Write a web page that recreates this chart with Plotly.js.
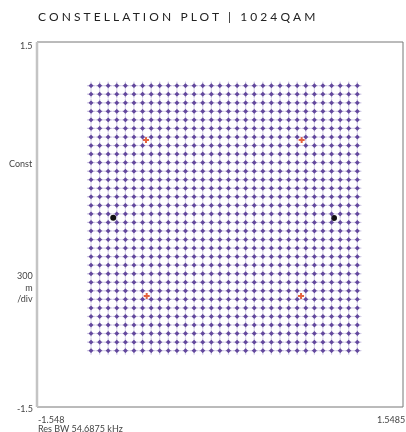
<!DOCTYPE html>
<html>
<head>
<meta charset="utf-8">
<script src="https://cdn.plot.ly/plotly-3.0.1.min.js"></script>
<style>
html,body{margin:0;padding:0;background:#fff;}
#chart{width:406px;height:432px;}
.gtitle{letter-spacing:3.1px;}
</style>
</head>
<body>
<div id="chart"></div>
<script>
// In-phase (I) levels of the 32 constellation columns
var iLevels = [-1.091,-1.018,-0.946,-0.873,-0.800,-0.728,-0.655,-0.582,-0.510,-0.437,
  -0.364,-0.292,-0.219,-0.146,-0.073,-0.001,0.072,0.145,0.217,0.290,
  0.363,0.435,0.508,0.581,0.653,0.726,0.799,0.871,0.944,1.017,1.089,1.162];
// Quadrature (Q) levels of the 32 constellation rows
var qLevels = [1.141,1.071,1.000,0.930,0.860,0.790,0.719,0.649,0.579,0.509,
  0.438,0.368,0.298,0.228,0.157,0.087,0.017,-0.053,-0.124,-0.194,
  -0.264,-0.334,-0.405,-0.475,-0.545,-0.615,-0.686,-0.756,-0.826,-0.896,-0.967,-1.037];
// Highlighted symbols
var pilotI = [-0.626,0.691,-0.620,0.686];
var pilotQ = [0.695,0.695,-0.588,-0.588];
var markerI = [-0.903,0.965];
var markerQ = [0.056,0.053];
// Axis annotations
var xRange = [-1.548,1.5485];
var yRange = [-1.5,1.5];
var xTickLabels = ["-1.548","1.5485"];
var yTickLabels = ["1.5","-1.5"];
var scaleLabels = ["Const","300<br>m<br>/div"];
var footer = "Res BW 54.6875 kHz";
var titleText = "CONSTELLATION PLOT | 1024QAM";

var gx = [], gy = [];
for (var r = 0; r < qLevels.length; r++) {
  for (var c = 0; c < iLevels.length; c++) {
    gx.push(iLevels[c]); gy.push(qLevels[r]);
  }
}

var traces = [
  {x: gx, y: gy, type: 'scattergl', mode: 'markers', hoverinfo: 'skip',
   marker: {symbol: 'cross-thin', size: 5, color: 'rgba(165,152,205,0.5)', line: {width: 1, color: 'rgba(165,152,205,0.5)'}}},
  {x: gx, y: gy, type: 'scattergl', mode: 'markers', hoverinfo: 'skip',
   marker: {symbol: 'diamond', size: 4, color: 'rgba(88,60,150,0.92)', line: {width: 0}}},
  {x: pilotI, y: pilotQ, type: 'scatter', mode: 'markers', hoverinfo: 'skip',
   marker: {symbol: 'cross', size: 5, color: '#e4623e', line: {width: 0}}},
  {x: markerI, y: markerQ, type: 'scatter', mode: 'markers', hoverinfo: 'skip',
   marker: {symbol: 'circle', size: 6, color: '#111111', line: {width: 0}}}
];

var L = 37, R = 403, T = 42, B = 407;
function px(p){ return (p - L) / (R - L); }
function py(p){ return (B - p) / (B - T); }
var lab = {family: 'Lato, "Open Sans", sans-serif', size: 9, color: '#444'};

var annotations = [
  {text: yTickLabels[0], x: px(34), y: py(46), xanchor: 'right', yanchor: 'middle'},
  {text: yTickLabels[1], x: px(34), y: py(408), xanchor: 'right', yanchor: 'middle'},
  {text: scaleLabels[0], x: px(34), y: py(163), xanchor: 'right', yanchor: 'middle'},
  {text: scaleLabels[1], x: px(34), y: py(287), xanchor: 'right', yanchor: 'middle', align: 'right'},
  {text: xTickLabels[0], x: px(37), y: py(419), xanchor: 'left', yanchor: 'middle'},
  {text: xTickLabels[1], x: px(406), y: py(419), xanchor: 'right', yanchor: 'middle'},
  {text: footer, x: px(37), y: py(428), xanchor: 'left', yanchor: 'middle'}
].map(function(a){
  a.xref = 'paper'; a.yref = 'paper'; a.showarrow = false; a.font = lab; a.borderpad = 0;
  return a;
});

var layout = {
  width: 406, height: 432,
  margin: {l: L, r: 406 - R, t: T, b: 432 - B, pad: 0},
  paper_bgcolor: '#fff', plot_bgcolor: '#fff',
  showlegend: false,
  title: {text: titleText, x: 38/406, xanchor: 'left', xref: 'container',
          y: 1 - 17/432, yanchor: 'middle', yref: 'container',
          font: {family: 'Lato, "Open Sans", sans-serif', size: 12, color: '#222'}},
  xaxis: {range: xRange, showgrid: false, zeroline: false, showticklabels: false, ticks: '', fixedrange: true},
  yaxis: {range: yRange, showgrid: false, zeroline: false, showticklabels: false, ticks: '', fixedrange: true},
  shapes: [
    {type: 'rect', xref: 'paper', yref: 'paper', x0: 0, x1: 1, y0: 0, y1: 1,
     line: {color: '#777', width: 1}},
    {type: 'line', xref: 'paper', yref: 'paper', x0: 0, x1: 0, y0: 0, y1: 1,
     line: {color: '#c4c4c4', width: 2.5}}
  ],
  annotations: annotations
};

Plotly.newPlot('chart', traces, layout, {staticPlot: true, displayModeBar: false});
</script>
</body>
</html>
